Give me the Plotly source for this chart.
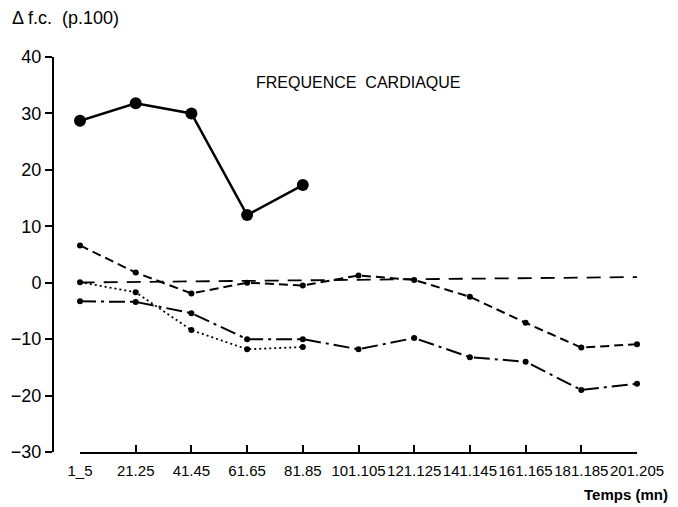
import plotly.graph_objects as go

categories = ["1_5", "21.25", "41.45", "61.65", "81.85", "101.105", "121.125",
              "141.145", "161.165", "181.185", "201.205"]
y_ticks = [40, 30, 20, 10, 0, -10, -20, -30]
y_ticktext = ["40", "30", "20", "10", "0", "\u221210", "\u221220", "\u221230"]

solid_vals = [28.7, 31.8, 30.0, 12.0, 17.3]
dashed_vals = [6.6, 1.8, -1.9, 0.0, -0.5, 1.3, 0.5, -2.5, -7.1, -11.5, -10.9]
dashdot_vals = [-3.3, -3.4, -5.4, -10.0, -10.0, -11.8, -9.8, -13.2, -14.0, -19.0, -17.9]
dotted_vals = [0.1, -1.7, -8.4, -11.8, -11.4]
ref_x = [-0.4, 10]
ref_y = [0.0, 1.0]

FONT = "Liberation Sans, Arial, sans-serif"
W, H = 678, 507

xs = list(range(len(categories)))

fig = go.Figure()
fig.add_trace(go.Scatter(x=ref_x, y=ref_y, mode="lines",
                         line=dict(color="black", width=1.8, dash="14px,9px"),
                         cliponaxis=False, hoverinfo="skip"))
fig.add_trace(go.Scatter(x=xs[:len(dashed_vals)], y=dashed_vals, mode="lines+markers",
                         line=dict(color="black", width=2, dash="9px,5px"),
                         marker=dict(color="black", size=6), cliponaxis=False))
fig.add_trace(go.Scatter(x=xs[:len(dashdot_vals)], y=dashdot_vals, mode="lines+markers",
                         line=dict(color="black", width=2, dash="16px,5px,3px,5px"),
                         marker=dict(color="black", size=6), cliponaxis=False))
fig.add_trace(go.Scatter(x=xs[:len(dotted_vals)], y=dotted_vals, mode="lines+markers",
                         line=dict(color="black", width=1.8, dash="2px,3px"),
                         marker=dict(color="black", size=6), cliponaxis=False))
fig.add_trace(go.Scatter(x=xs[:len(solid_vals)], y=solid_vals, mode="lines+markers",
                         line=dict(color="black", width=2.5),
                         marker=dict(color="black", size=12), cliponaxis=False))

ml, mr, mt, mb = 0, 0, 57, 55
pw = W - ml - mr
x0_px, x1_px, yaxis_px = 80, 637, 53

fig.update_layout(
    width=W, height=H,
    margin=dict(l=ml, r=mr, t=mt, b=mb, autoexpand=False),
    paper_bgcolor="white", plot_bgcolor="white",
    showlegend=False,
    font=dict(family=FONT, color="black", size=16),
    xaxis=dict(
        domain=[(x0_px - ml) / pw, (x1_px - ml) / pw],
        range=[0, 10], automargin=False,
        tickmode="array", tickvals=xs, ticktext=categories, tickangle=0,
        showline=True, linecolor="black", linewidth=1.8,
        ticks="inside", ticklen=7, tickwidth=2, tickcolor="black",
        showgrid=False, zeroline=False, ticklabelstandoff=4,
        tickfont=dict(size=15, family=FONT),
    ),
    yaxis=dict(
        range=[-30, 40], automargin=False,
        anchor="free", position=(yaxis_px - ml) / pw,
        tickmode="array", tickvals=y_ticks, ticktext=y_ticktext,
        showline=True, linecolor="black", linewidth=2,
        ticks="outside", ticklen=7, tickwidth=2, tickcolor="black",
        showgrid=False, zeroline=False,
        tickfont=dict(size=18, family=FONT),
    ),
    annotations=[
        dict(text="\u0394 f.c.  (p.100)", xref="paper", yref="paper",
             x=(10 - ml) / pw, xanchor="left", y=1 + (mt - 18) / (H - mt - mb), yanchor="middle",
             showarrow=False, font=dict(size=18, family=FONT)),
        dict(text="FREQUENCE  CARDIAQUE", xref="paper", yref="paper",
             x=(358 - ml) / pw, xanchor="center", y=1 - (82 - mt) / (H - mt - mb), yanchor="middle",
             showarrow=False, font=dict(size=16, family=FONT)),
        dict(text="<b>Temps (mn)</b>", xref="paper", yref="paper",
             x=(670 - ml) / pw, xanchor="right", y=-(495 - (H - mb)) / (H - mt - mb), yanchor="middle",
             showarrow=False, font=dict(size=15, family=FONT)),
    ],
)

fig.write_html("out.html", config={"displayModeBar": False},
               post_script="document.body.style.margin='0';")
